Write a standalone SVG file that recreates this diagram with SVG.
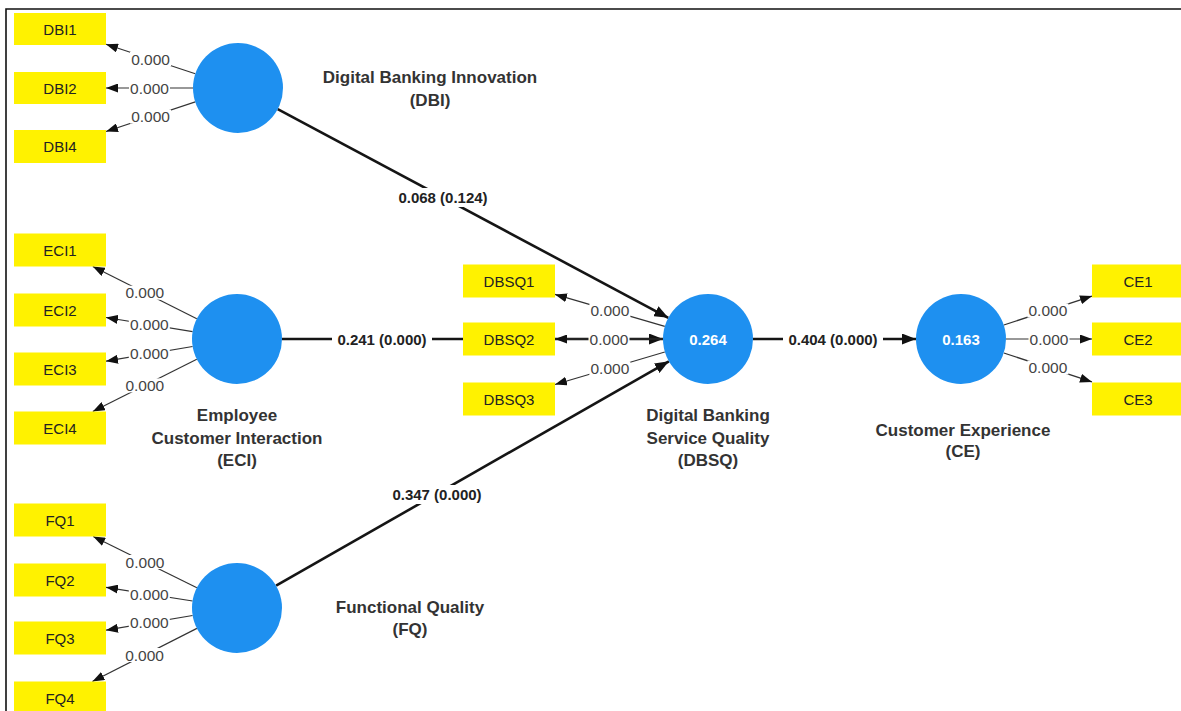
<svg xmlns="http://www.w3.org/2000/svg" width="1181" height="711" viewBox="0 0 1181 711">
<style>
.ld{stroke:#333;stroke-width:1.2;fill:none;marker-end:url(#ah)}
.st{stroke:#151515;stroke-width:2.6;fill:none;marker-end:url(#ahb)}
.lv{font-family:"Liberation Sans",Arial,sans-serif;font-size:15.5px;fill:#444;text-anchor:middle}
.pv{font-family:"Liberation Sans",Arial,sans-serif;font-size:15px;font-weight:bold;fill:#222;text-anchor:middle}
.bg{fill:#fff}
.lat{fill:#1E90F0}
.ind{fill:#FFF200}
.it{font-family:"Liberation Sans",Arial,sans-serif;font-size:15px;fill:#222;text-anchor:middle}
.nm{font-family:"Liberation Sans",Arial,sans-serif;font-size:17px;font-weight:bold;fill:#333;text-anchor:middle}
.r2{font-family:"Liberation Sans",Arial,sans-serif;font-size:15px;font-weight:bold;fill:#fff;text-anchor:middle}
</style>
<defs>
<marker id="ah" viewBox="0 0 12 9" refX="12" refY="4.5" markerWidth="12" markerHeight="9" orient="auto" markerUnits="userSpaceOnUse"><path d="M0,0L12,4.5L0,9z" fill="#111"/></marker>
<marker id="ahb" viewBox="0 0 14 11" refX="14" refY="5.5" markerWidth="14" markerHeight="11" orient="auto" markerUnits="userSpaceOnUse"><path d="M0,0L14,5.5L0,11z" fill="#111"/></marker>
</defs>
<rect x="0" y="0" width="1181" height="711" fill="#fff"/>
<path d="M6,711 V9 H1181" fill="none" stroke="#111" stroke-width="1.6"/>

<g id="connectors">
<!-- structural paths -->
<line class="st" x1="277.7" y1="109.2" x2="668.3" y2="317.8"/>
<rect class="bg" x="393" y="188" width="100" height="19"/>
<text class="pv" x="443" y="203">0.068 (0.124)</text>
<line class="st" x1="282" y1="339" x2="663" y2="339"/>
<rect class="bg" x="332" y="330" width="100" height="19"/>
<text class="pv" x="382" y="344.5">0.241 (0.000)</text>
<line class="st" x1="276.1" y1="585.7" x2="668.9" y2="361.3"/>
<rect class="bg" x="387" y="485" width="100" height="19"/>
<text class="pv" x="437" y="499.5">0.347 (0.000)</text>
<line class="st" x1="753" y1="339" x2="916" y2="339"/>
<rect class="bg" x="783" y="330" width="100" height="19"/>
<text class="pv" x="833" y="344.5">0.404 (0.000)</text>

<!-- DBI loadings -->
<line class="ld" x1="195.3" y1="73.8" x2="106" y2="44.3"/>
<rect class="bg" x="130" y="52" width="41" height="14"/>
<text class="lv" x="150.6" y="64.5">0.000</text>
<line class="ld" x1="193" y1="88" x2="106" y2="88"/>
<rect class="bg" x="129" y="81" width="41" height="14"/>
<text class="lv" x="149.5" y="93.5">0.000</text>
<line class="ld" x1="195.3" y1="101.9" x2="106" y2="131.5"/>
<rect class="bg" x="130" y="109.5" width="41" height="14"/>
<text class="lv" x="150.6" y="122">0.000</text>

<!-- ECI loadings -->
<line class="ld" x1="196.8" y1="318.8" x2="92.8" y2="266.5"/>
<rect class="bg" x="124.3" y="285.7" width="41" height="14"/>
<text class="lv" x="144.8" y="298.2">0.000</text>
<line class="ld" x1="192.6" y1="331.7" x2="106" y2="317.5"/>
<rect class="bg" x="128.8" y="317.6" width="41" height="14"/>
<text class="lv" x="149.3" y="330.1">0.000</text>
<line class="ld" x1="192.6" y1="346.5" x2="106" y2="361.2"/>
<rect class="bg" x="128.8" y="346.9" width="41" height="14"/>
<text class="lv" x="149.3" y="359.4">0.000</text>
<line class="ld" x1="196.8" y1="359.2" x2="92.8" y2="411.5"/>
<rect class="bg" x="124.3" y="378.4" width="41" height="14"/>
<text class="lv" x="144.8" y="390.9">0.000</text>

<!-- FQ loadings -->
<line class="ld" x1="196.9" y1="587.8" x2="93.2" y2="536.5"/>
<rect class="bg" x="124.5" y="555" width="41" height="14"/>
<text class="lv" x="145" y="567.5">0.000</text>
<line class="ld" x1="192.6" y1="601" x2="106" y2="587.3"/>
<rect class="bg" x="128.8" y="587.1" width="41" height="14"/>
<text class="lv" x="149.3" y="599.6">0.000</text>
<line class="ld" x1="192.6" y1="615.5" x2="106" y2="630.2"/>
<rect class="bg" x="128.8" y="615.9" width="41" height="14"/>
<text class="lv" x="149.3" y="628.4">0.000</text>
<line class="ld" x1="196.9" y1="628.4" x2="92.4" y2="681.5"/>
<rect class="bg" x="124.1" y="648" width="41" height="14"/>
<text class="lv" x="144.6" y="660.5">0.000</text>

<!-- DBSQ loadings -->
<line class="ld" x1="664.8" y1="326.4" x2="555" y2="294.4"/>
<rect class="bg" x="589.4" y="303.4" width="41" height="14"/>
<text class="lv" x="609.9" y="315.9">0.000</text>
<line class="ld" x1="663" y1="339" x2="555" y2="339"/>
<rect class="bg" x="588.5" y="332" width="41" height="14"/>
<text class="lv" x="609" y="344.5">0.000</text>
<line class="ld" x1="664.8" y1="352" x2="555" y2="384.5"/>
<rect class="bg" x="589.4" y="361.5" width="41" height="14"/>
<text class="lv" x="609.9" y="374">0.000</text>

<!-- CE loadings -->
<line class="ld" x1="1003.8" y1="325" x2="1092" y2="296.1"/>
<rect class="bg" x="1027.4" y="303.5" width="41" height="14"/>
<text class="lv" x="1047.9" y="316">0.000</text>
<line class="ld" x1="1006" y1="339" x2="1092" y2="339"/>
<rect class="bg" x="1028.5" y="332" width="41" height="14"/>
<text class="lv" x="1049" y="344.5">0.000</text>
<line class="ld" x1="1003.8" y1="353" x2="1092" y2="381.9"/>
<rect class="bg" x="1027.4" y="360.5" width="41" height="14"/>
<text class="lv" x="1047.9" y="373">0.000</text>
</g>

<!-- latent variables -->
<g id="DBI">
<circle class="lat" cx="238" cy="88" r="45"/>
<text class="nm" x="430" y="83">Digital Banking Innovation</text>
<text class="nm" x="430" y="106">(DBI)</text>
</g>
<g id="ECI">
<circle class="lat" cx="237" cy="339" r="45"/>
<text class="nm" x="237" y="421">Employee</text>
<text class="nm" x="237" y="444">Customer Interaction</text>
<text class="nm" x="237" y="466">(ECI)</text>
</g>
<g id="FQ">
<circle class="lat" cx="237" cy="608" r="45"/>
<text class="nm" x="410" y="613">Functional Quality</text>
<text class="nm" x="410" y="635">(FQ)</text>
</g>
<g id="DBSQ">
<circle class="lat" cx="708" cy="339" r="45"/>
<text class="r2" x="708" y="344.5">0.264</text>
<text class="nm" x="708" y="421">Digital Banking</text>
<text class="nm" x="708" y="444">Service Quality</text>
<text class="nm" x="708" y="466">(DBSQ)</text>
</g>
<g id="CE">
<circle class="lat" cx="961" cy="339" r="45"/>
<text class="r2" x="961" y="344.5">0.163</text>
<text class="nm" x="963" y="436">Customer Experience</text>
<text class="nm" x="963" y="457">(CE)</text>
</g>

<!-- indicators -->
<g id="DBI1"><rect class="ind" x="14" y="13" width="92" height="32"/><text class="it" x="60" y="34.5">DBI1</text></g>
<g id="DBI2"><rect class="ind" x="14" y="72" width="92" height="32"/><text class="it" x="60" y="93.5">DBI2</text></g>
<g id="DBI4"><rect class="ind" x="14" y="130" width="92" height="33"/><text class="it" x="60" y="152">DBI4</text></g>
<g id="ECI1"><rect class="ind" x="14" y="233.5" width="92" height="33"/><text class="it" x="60" y="255.5">ECI1</text></g>
<g id="ECI2"><rect class="ind" x="14" y="293.5" width="92" height="33"/><text class="it" x="60" y="315.5">ECI2</text></g>
<g id="ECI3"><rect class="ind" x="14" y="352.5" width="92" height="33"/><text class="it" x="60" y="374.5">ECI3</text></g>
<g id="ECI4"><rect class="ind" x="14" y="411.5" width="92" height="33"/><text class="it" x="60" y="433.5">ECI4</text></g>
<g id="FQ1"><rect class="ind" x="14" y="503.5" width="92" height="33"/><text class="it" x="60" y="525.5">FQ1</text></g>
<g id="FQ2"><rect class="ind" x="14" y="563.5" width="92" height="33"/><text class="it" x="60" y="585.5">FQ2</text></g>
<g id="FQ3"><rect class="ind" x="14" y="621.5" width="92" height="33"/><text class="it" x="60" y="643.5">FQ3</text></g>
<g id="FQ4"><rect class="ind" x="14" y="681.5" width="92" height="33"/><text class="it" x="60" y="703.5">FQ4</text></g>
<g id="DBSQ1"><rect class="ind" x="463" y="264.5" width="92" height="33"/><text class="it" x="509" y="286.5">DBSQ1</text></g>
<g id="DBSQ2"><rect class="ind" x="463" y="322.5" width="92" height="33"/><text class="it" x="509" y="344.5">DBSQ2</text></g>
<g id="DBSQ3"><rect class="ind" x="463" y="382.5" width="92" height="33"/><text class="it" x="509" y="404.5">DBSQ3</text></g>
<g id="CE1"><rect class="ind" x="1092" y="264.5" width="92" height="33"/><text class="it" x="1138" y="286.5">CE1</text></g>
<g id="CE2"><rect class="ind" x="1092" y="322.5" width="92" height="33"/><text class="it" x="1138" y="344.5">CE2</text></g>
<g id="CE3"><rect class="ind" x="1092" y="382.5" width="92" height="33"/><text class="it" x="1138" y="404.5">CE3</text></g>
</svg>
